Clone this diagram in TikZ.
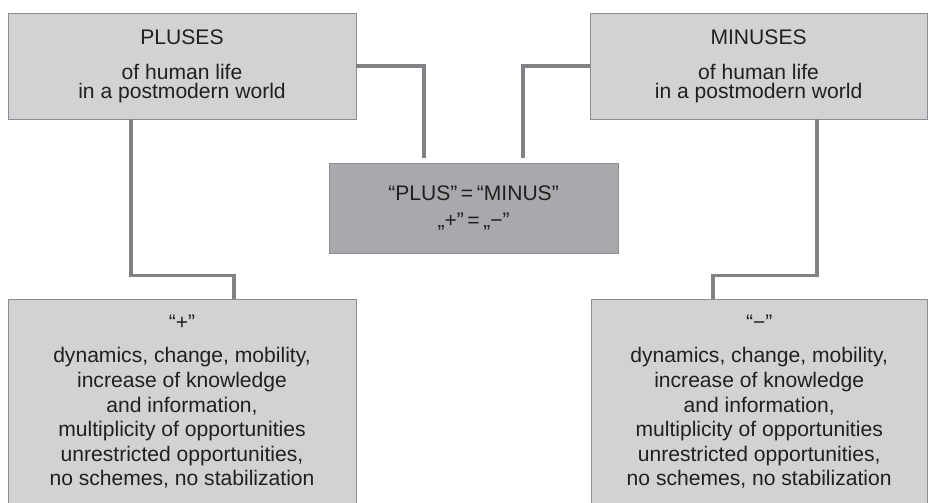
\documentclass[tikz,border=0pt]{standalone}
\usepackage{fontspec}
\setmainfont{Liberation Sans}
\usepackage{tikz}
\definecolor{boxgray}{HTML}{D1D2D4}
\definecolor{midgray}{HTML}{A7A9AC}
\definecolor{linegray}{HTML}{808285}
\definecolor{edgegray}{HTML}{8C8E91}
\definecolor{textgray}{HTML}{231F20}

\begin{document}
\begin{tikzpicture}[
    box/.style={rectangle, draw=edgegray, line width=0.6pt, fill=boxgray, text=textgray,
        align=center, inner sep=0pt, font=\fontsize{15}{17.5}\selectfont},
    head/.style={box, minimum height=2.65cm, font=\fontsize{15}{13.5}\selectfont},
    list/.style={box, inner ysep=0.4cm, anchor=north},
    link/.style={draw=linegray, line width=2.2pt}]
                \useasboundingbox (0, 0) rectangle (23.2, 12.55);
                % Top row: pluses and minuses
                \node[head, minimum width=8.7cm] (pluses) at (4.55, 10.9)
                    {PLUSES\\[11.3pt] of human life\\ in a postmodern world};
                \node[head, minimum width=8.43cm] (minuses) at (18.965, 10.9)
                    {MINUSES\\[11.3pt] of human life\\ in a postmodern world};

                % Middle box
                \node[box, fill=midgray, minimum width=7.225cm, minimum height=2.25cm] (equal) at (11.84, 7.35)
                    {“PLUS”\,=\,“MINUS”\\[2pt] „+”\,=\,„−”};

                % Bottom row, cut off by the page edge
                \node[list, minimum width=8.7cm] (plusbox) at (4.55, 5.075)
                    {“+”\\[6pt] dynamics, change, mobility,\\ increase of knowledge\\ and information,\\
                     multiplicity of opportunities\\ unrestricted opportunities,\\ no schemes, no stabilization};
                \node[list, minimum width=8.4cm] (minusbox) at (18.98, 5.075)
                    {“−”\\[6pt] dynamics, change, mobility,\\ increase of knowledge\\ and information,\\
                     multiplicity of opportunities\\ unrestricted opportunities,\\ no schemes, no stabilization};

                \coordinate (lend) at (10.6, 8.6);
                \coordinate (rend) at (13.075, 8.6);

                \draw[link] (pluses.east) -| (lend);
                \draw[link] (minuses.west) -| (rend);
                \draw[link] ([xshift=-1.275cm]pluses.south) -- ++(0, -3.9) -| ([xshift=1.3cm]plusbox.north);
                \draw[link] ([xshift=1.46cm]minuses.south) -- ++(0, -3.9) -| ([xshift=-1.155cm]minusbox.north);
            \end{tikzpicture}
\end{document}
